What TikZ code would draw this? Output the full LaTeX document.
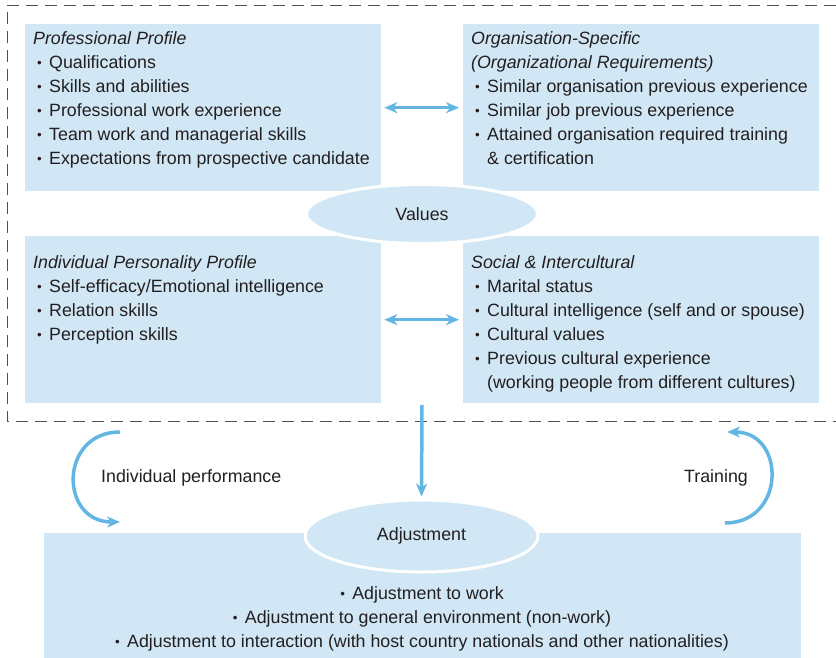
\documentclass[tikz,border=0pt]{standalone}
\usepackage{fontspec}
\setmainfont{Liberation Sans}
\usetikzlibrary{arrows.meta,shapes.geometric}
\definecolor{boxblue}{RGB}{209,231,245}
\definecolor{arrblue}{RGB}{99,182,228}
\definecolor{txt}{RGB}{35,31,32}
\definecolor{framegray}{RGB}{80,80,80}
\newcommand\dotmark{\raisebox{1pt}{\scalebox{0.75}{•}}}
\newcommand\bl{\makebox[16pt][l]{\hspace{4pt}\dotmark}}
\newcommand\cbl{\makebox[12pt][l]{\dotmark}}
\newcommand\ind{\hspace*{16pt}}
\begin{document}
\begin{tikzpicture}[x=1pt,y=-1pt,
  every node/.style={text=txt, font=\fontsize{17.8}{24}\selectfont},
  pbox/.style={fill=boxblue, inner sep=0pt, anchor=north west},
  ell/.style={ellipse, fill=boxblue, draw=white, line width=3pt, inner sep=0pt},
  btext/.style={anchor=north west, inner sep=0pt, align=left},
  conn/.style={draw=arrblue, line width=3.5pt, -{Stealth[length=13pt,width=11pt,inset=4pt]}},
  dconn/.style={draw=arrblue, line width=3.5pt, {Stealth[length=13pt,width=11pt,inset=4pt]}-{Stealth[length=13pt,width=11pt,inset=4pt]}},
  frame/.style={draw=framegray, line width=0.9pt, dash pattern=on 12pt off 7pt}
]
\useasboundingbox (0,0) rectangle (836,658);

% dashed frame
\draw[frame] (836,5) -- (7,5) -- (7,421) -- (836,421);

% boxes
\node[pbox, minimum width=356pt, minimum height=167pt] (pp) at (25,24) {};
\node[pbox, minimum width=356pt, minimum height=167pt] (os) at (463,24) {};
\node[pbox, minimum width=356pt, minimum height=167pt] (ip) at (25,236) {};
\node[pbox, minimum width=356pt, minimum height=167pt] (si) at (463,236) {};

% texts
\node[btext] (pptxt) at (33,27.2) {\strut\textit{Professional Profile}\\
\bl Qualifications\\
\bl Skills and abilities\\
\bl Professional work experience\\
\bl Team work and managerial skills\\
\bl Expectations from prospective candidate};

\node[btext] (ostxt) at (471,27.2) {\strut\textit{Organisation-Specific}\\
\textit{(Organizational Requirements)}\\
\bl Similar organisation previous experience\\
\bl Similar job previous experience\\
\bl Attained organisation required training\\
\ind\& certification};

\node[btext] (iptxt) at (33,251.2) {\strut\textit{Individual Personality Profile}\\
\bl Self-efficacy/Emotional intelligence\\
\bl Relation skills\\
\bl Perception skills};

\node[btext] (sitxt) at (471,251.2) {\strut\textit{Social \& Intercultural}\\
\bl Marital status\\
\bl Cultural intelligence (self and or spouse)\\
\bl Cultural values\\
\bl Previous cultural experience\\
\ind(working people from different cultures)};

% values ellipse
\node[ell, minimum width=231pt, minimum height=59pt] (val) at (422,214) {Values};

% double arrows
\draw[dconn, shorten <=3pt, shorten >=4pt] (pp) -- (os);
\draw[dconn, shorten <=3pt, shorten >=4pt] (ip) -- (si);

% adjustment box
\node[pbox, minimum width=757pt, minimum height=127pt] (adjbox) at (44,533) {};
\node[ell, minimum width=233pt, minimum height=72pt] (adj) at (421.5,536) {Adjustment};
\node[btext, anchor=north, align=center] (adjtxt) at (422,582.2) {\strut\cbl Adjustment to work\\
\cbl Adjustment to general environment (non-work)\\
\cbl Adjustment to interaction (with host country nationals and other nationalities)};

% vertical arrow
\coordinate (vstart) at (422,405);
\draw[conn, shorten >=2pt] (vstart) -- (adj.north);

% curved arrows
\coordinate (ipA) at (120,432);
\coordinate (ipB) at (120,522);
\draw[conn] (ipA) .. controls (59,432) and (59,522) .. (ipB);
\coordinate (trA) at (725,523);
\coordinate (trB) at (727,432);
\draw[conn] (trA) .. controls (786,523) and (786,432) .. (trB);

\node[anchor=base west, inner sep=0pt] (perf) at (101,482) {Individual performance};
\node[anchor=base west, inner sep=0pt] (trn) at (684,482) {Training};
\end{tikzpicture}
\end{document}
